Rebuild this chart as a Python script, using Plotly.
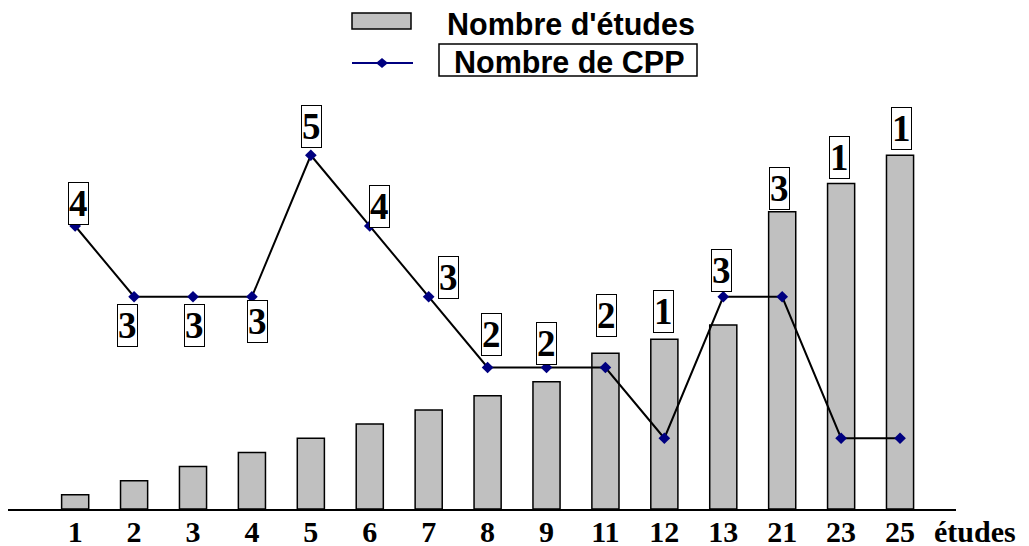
import plotly.graph_objects as go

# ---- data ----
categories = ["1", "2", "3", "4", "5", "6", "7", "8", "9", "11", "12", "13", "21", "23", "25"]
nb_etudes = [1, 2, 3, 4, 5, 6, 7, 8, 9, 11, 12, 13, 21, 23, 25]
nb_cpp = [4, 3, 3, 3, 5, 4, 3, 2, 2, 2, 1, 3, 3, 1, 1]
# label offsets (pixels) relative to each CPP point
label_dx = [3, -7, 1, 6, 1, 10, 20, 4, 0, 1, -1, -2, -3, -2, 1]
label_dy = [23, -29, -29, -25, 29, 20, 19, 33, 24, 52, 127, 26, 108, 281, 310]

W, H = 1029, 546
OFF = 8  # page body margin
L, R, T, B = 0, 81, 92, 45
PW, PH = W - L - R, H - T - B
PX_PER_UNIT = 14.15


def px(x):
    return (x - OFF - L) / PW


def py(y):
    return (H - B - (y - OFF)) / PH


fig = go.Figure()
fig.add_trace(go.Bar(
    x=categories, y=nb_etudes, name="Nombre d'études",
    marker=dict(color="#C0C0C0", line=dict(color="black", width=1.5)),
    width=0.46, yaxis="y", showlegend=False,
))
fig.add_trace(go.Scatter(
    x=categories, y=nb_cpp, name="Nombre de CPP", mode="lines+markers",
    line=dict(color="black", width=2),
    marker=dict(symbol="diamond", size=9, color="#000080", line=dict(width=0)),
    yaxis="y2", showlegend=False,
))

ymax = PH / PX_PER_UNIT
annotations = []
for i, (v, dx, dy) in enumerate(zip(nb_cpp, label_dx, label_dy)):
    annotations.append(dict(
        x=i, y=v, xref="x", yref="y2", text=str(v), showarrow=False,
        xshift=dx, yshift=dy, xanchor="center", yanchor="middle",
        font=dict(family="Liberation Serif", size=37, color="black", weight="bold"),
        bgcolor="white", bordercolor="black", borderwidth=1, borderpad=0,
    ))

# axis title "études"
annotations.append(dict(
    x=px(975), y=py(531), xref="paper", yref="paper", text="études", showarrow=False,
    xanchor="center", yanchor="middle",
    font=dict(family="Liberation Serif", size=30, color="black", weight="bold"),
))

# manual legend
annotations.append(dict(
    x=px(445), y=py(24), xref="paper", yref="paper", text="Nombre d'études",
    showarrow=False, xanchor="left", yanchor="middle",
    font=dict(family="Liberation Sans", size=30.5, color="black", weight="bold"),
))
annotations.append(dict(
    x=px(452), y=py(62), xref="paper", yref="paper", text="Nombre de CPP",
    showarrow=False, xanchor="left", yanchor="middle",
    font=dict(family="Liberation Sans", size=30.5, color="black", weight="bold"),
))

shapes = [
    dict(type="rect", xref="paper", yref="paper", x0=px(352), x1=px(411), y0=py(29), y1=py(13),
         fillcolor="#C0C0C0", line=dict(color="black", width=1.5)),
    dict(type="line", xref="paper", yref="paper", x0=px(352), x1=px(413), y0=py(63), y1=py(63),
         line=dict(color="#000080", width=2)),
    dict(type="path", xref="paper", yref="paper",
         path=f"M {px(376)},{py(63)} L {px(382)},{py(58)} L {px(388)},{py(63)} L {px(382)},{py(68)} Z",
         fillcolor="#000080", line=dict(color="#000080", width=0)),
    dict(type="rect", xref="paper", yref="paper", x0=px(439), x1=px(697), y0=py(76), y1=py(44),
         line=dict(color="black", width=1.5)),
]

fig.update_layout(
    width=W, height=H,
    margin=dict(l=L, r=R, t=T, b=B),
    plot_bgcolor="white", paper_bgcolor="white",
    xaxis=dict(
        type="category", range=[-1.14, 14.95], showline=True, linecolor="black", linewidth=2,
        showgrid=False, zeroline=False, ticks="", automargin=False, ticklabelstandoff=-5,
        tickfont=dict(family="Liberation Serif", size=30, color="black", weight="bold"),
    ),
    yaxis=dict(range=[0, ymax], visible=False, showgrid=False, automargin=False),
    yaxis2=dict(range=[0, ymax / 5], overlaying="y", visible=False, showgrid=False, automargin=False),
    annotations=annotations,
    shapes=shapes,
    showlegend=False,
)

fig.write_html("out.html")
